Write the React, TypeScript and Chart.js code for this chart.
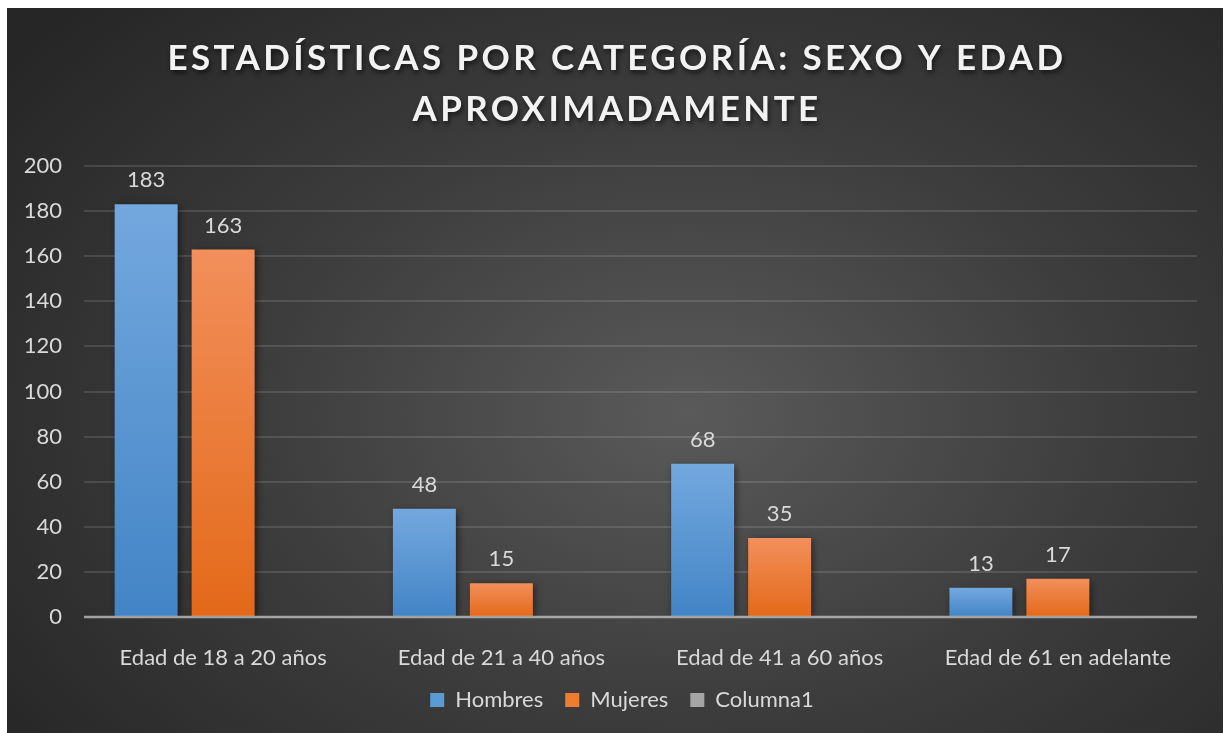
import React, { useEffect, useRef } from "react";
import { Chart, registerables } from "chart.js";
Chart.register(...registerables);

const categories = [
  "Edad de 18 a 20 años",
  "Edad de 21 a 40 años",
  "Edad de 41 a 60 años",
  "Edad de 61 en adelante",
];
const hombres = [183, 48, 68, 13];
const mujeres = [163, 15, 35, 17];
const columna1: (number | null)[] = [null, null, null, null];
const seriesNames = ["Hombres", "Mujeres", "Columna1"];
const titleLines = ["ESTADÍSTICAS POR CATEGORÍA: SEXO Y EDAD", "APROXIMADAMENTE"];
const yMin = 0;
const yMax = 200;
const yStep = 20;

const FONT = "Lato, 'Open Sans', sans-serif";
const TEXT = "#d9d9d9";

const barGradient = (top: string, bottom: string) => (ctx: any) => {
  const chart = ctx.chart;
  const { chartArea, scales } = chart;
  if (!chartArea || ctx.raw == null || !scales.y) return bottom;
  const y0 = scales.y.getPixelForValue(ctx.raw);
  const y1 = scales.y.getPixelForValue(0);
  if (!isFinite(y0) || !isFinite(y1) || y0 === y1) return bottom;
  const g = chart.ctx.createLinearGradient(0, y0, 0, y1);
  g.addColorStop(0, top);
  g.addColorStop(1, bottom);
  return g;
};

const legendColors = ["#5b9bd5", "#ed7d31", "#a5a5a5"];

const decorPlugin = {
  id: "decor",
  afterLayout(chart: any) {
    if (chart.legend) chart.legend.left += 40;
  },
  beforeDatasetsDraw(chart: any) {
    const c = chart.ctx;
    c.save();
    c.shadowColor = "rgba(0,0,0,0.55)";
    c.shadowBlur = 7;
    c.shadowOffsetX = 2;
    c.shadowOffsetY = 2;
  },
  afterDatasetsDraw(chart: any) {
    const c = chart.ctx;
    c.restore();
    const { chartArea, scales } = chart;
    const y0 = scales.y.getPixelForValue(0);
    c.save();
    c.strokeStyle = "rgba(200,200,200,0.75)";
    c.lineWidth = 2.5;
    c.beginPath();
    c.moveTo(chartArea.left, y0);
    c.lineTo(chartArea.right, y0);
    c.stroke();
    c.restore();
    c.save();
    c.fillStyle = TEXT;
    c.font = `22px ${FONT}`;
    c.textAlign = "center";
    c.textBaseline = "middle";
    [0, 1].forEach((di) => {
      const meta = chart.getDatasetMeta(di);
      meta.data.forEach((el: any, i: number) => {
        const v = chart.data.datasets[di].data[i];
        if (v == null) return;
        c.fillText(String(v), el.x, el.y - 24);
      });
    });
    c.restore();
  },
  afterDraw(chart: any) {
    const c = chart.ctx;
    c.save();
    c.font = `bold 35px ${FONT}`;
    (c as any).letterSpacing = "3.4px";
    c.fillStyle = "#f2f2f2";
    c.textAlign = "center";
    c.textBaseline = "middle";
    c.shadowColor = "rgba(0,0,0,0.6)";
    c.shadowBlur = 5;
    c.shadowOffsetX = 1.5;
    c.shadowOffsetY = 2.5;
    const cx = chart.width / 2 + 2;
    titleLines.forEach((t, i) => c.fillText(t, cx, 51 + i * 51));
    c.restore();
  },
};

export default function App() {
  const ref = useRef<HTMLCanvasElement | null>(null);
  useEffect(() => {
    if (!ref.current) return;
    const chart = new Chart(ref.current, {
      type: "bar",
      data: {
        labels: categories,
        datasets: [
          {
            label: seriesNames[0],
            data: hombres,
            backgroundColor: barGradient("#73a8de", "#4384c6"),
            categoryPercentage: 0.83,
            barPercentage: 0.818,
          },
          {
            label: seriesNames[1],
            data: mujeres,
            backgroundColor: barGradient("#f28f5b", "#e36919"),
            categoryPercentage: 0.83,
            barPercentage: 0.818,
          },
          {
            label: seriesNames[2],
            data: columna1,
            backgroundColor: barGradient("#b5b5b5", "#8f8f8f"),
            categoryPercentage: 0.83,
            barPercentage: 0.818,
          },
        ],
      },
      options: {
        animation: false,
        responsive: true,
        maintainAspectRatio: false,
        layout: { padding: { top: 158, right: 26, left: 0, bottom: 12 } },
        plugins: {
          title: { display: false },
          tooltip: { enabled: false },
          legend: {
            position: "bottom",
            labels: {
              color: TEXT,
              font: { family: FONT, size: 22 },
              boxWidth: 14,
              boxHeight: 14,
              padding: 22,
              generateLabels: (ch: any) => {
                const items = Chart.defaults.plugins.legend.labels.generateLabels(ch);
                return items.map((it: any, i: number) => ({
                  ...it,
                  fillStyle: legendColors[i],
                  strokeStyle: legendColors[i],
                  lineWidth: 0,
                }));
              },
            },
          },
        },
        scales: {
          x: {
            grid: { display: false },
            border: { display: false },
            ticks: { color: TEXT, font: { family: FONT, size: 22 }, padding: 20 },
            afterFit: (s: any) => {
              s.height = 50;
            },
          },
          y: {
            min: yMin,
            max: yMax,
            border: { display: false },
            grid: {
              drawTicks: false,
              lineWidth: 2,
              color: (ctx: any) =>
                ctx.tick && ctx.tick.value === 0 ? "rgba(0,0,0,0)" : "rgba(255,255,255,0.12)",
            },
            ticks: {
              stepSize: yStep,
              color: TEXT,
              font: { family: FONT, size: 22 },
              padding: 22,
            },
            afterFit: (s: any) => {
              s.width = 77;
            },
          },
        },
      },
      plugins: [decorPlugin],
    });
    return () => chart.destroy();
  }, []);
  return (
    <div
      style={{
        position: "fixed",
        left: 7,
        top: 8,
        width: 1216,
        height: 725,
        background:
          "radial-gradient(ellipse 70% 80% at 56% 56%, #5a5a5a 0%, #3d3d3d 50%, #262626 100%)",
      }}
    >
      <canvas ref={ref} />
    </div>
  );
}
